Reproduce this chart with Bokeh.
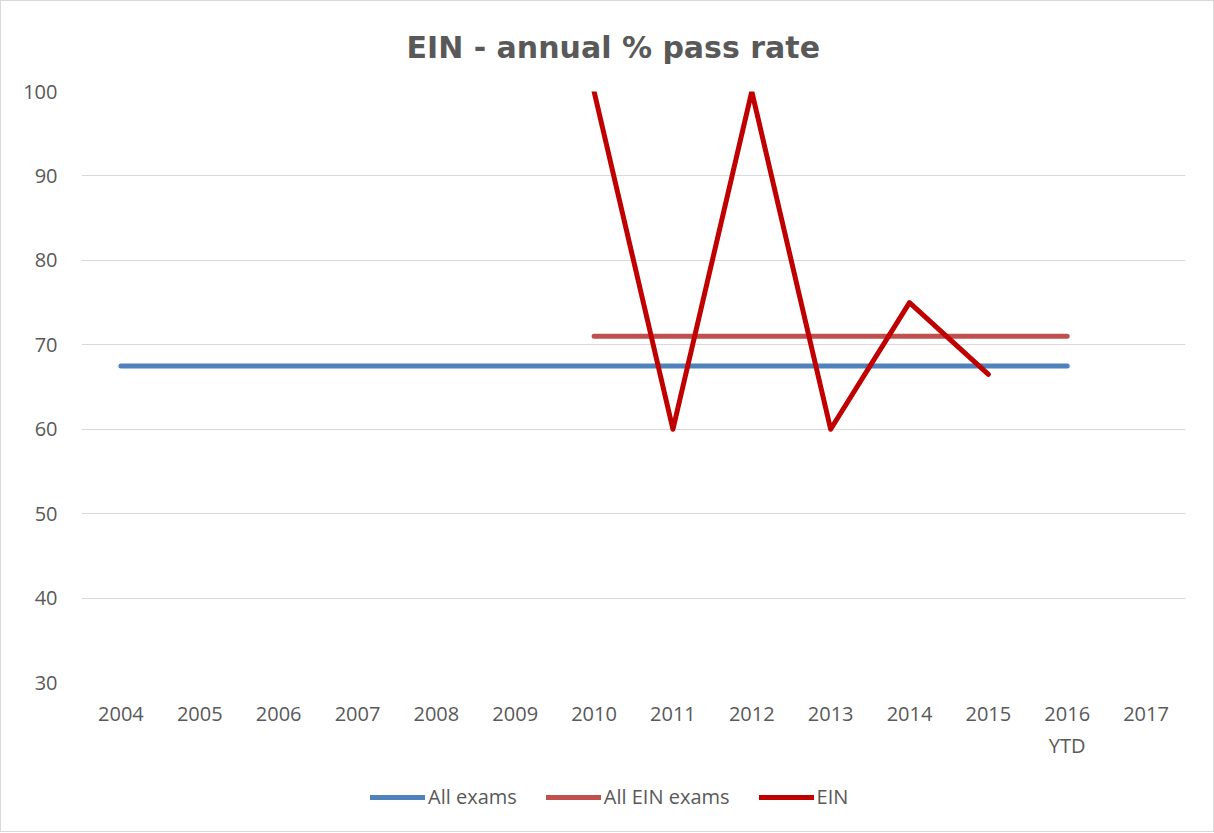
from bokeh.plotting import figure
from bokeh.models import Legend, LegendItem, FactorRange, Range1d, FixedTicker
from bokeh.layouts import column
from bokeh.embed import file_html
from bokeh.resources import INLINE

# ---- data ----
years = ["2004", "2005", "2006", "2007", "2008", "2009", "2010", "2011",
         "2012", "2013", "2014", "2015", "2016\nYTD", "2017"]
all_exams_years = ["2004", "2005", "2006", "2007", "2008", "2009", "2010",
                   "2011", "2012", "2013", "2014", "2015", "2016\nYTD"]
all_exams = [67.5, 67.5, 67.5, 67.5, 67.5, 67.5, 67.5, 67.5, 67.5, 67.5,
             67.5, 67.5, 67.5]
all_ein_years = ["2010", "2011", "2012", "2013", "2014", "2015", "2016\nYTD"]
all_ein = [71, 71, 71, 71, 71, 71, 71]
ein_years = ["2010", "2011", "2012", "2013", "2014", "2015"]
ein = [100, 60, 100, 60, 75, 66.5]
y_ticks = [30, 40, 50, 60, 70, 80, 90, 100]
series_names = ["All exams", "All EIN exams", "EIN"]
series_colors = ["#4F81BD", "#C0504D", "#C00000"]

FONT = "Open Sans"
GREY = "#595959"

p = figure(frame_width=1104, frame_height=591, x_range=FactorRange(*years),
           y_range=Range1d(30, 100), output_backend="svg",
           toolbar_location=None, title="EIN - annual % pass rate",
           min_border_left=80, min_border_right=28, min_border_top=86,
           min_border_bottom=83)
p.outline_line_color = None
p.background_fill_color = "white"

p.title.align = "left"
p.title.offset = 325
p.title.text_font = "DejaVu Sans"
p.title.text_font_size = "30px"
p.title.text_font_style = "bold"
p.title.text_color = GREY
p.title.standoff = 53

p.xgrid.grid_line_color = None
p.ygrid.grid_line_color = "#D9D9D9"
p.ygrid.grid_line_width = 1
p.yaxis.ticker = FixedTicker(ticks=y_ticks)

for ax in (p.xaxis[0], p.yaxis[0]):
    ax.axis_line_color = None
    ax.major_tick_line_color = None
    ax.minor_tick_line_color = None
    ax.major_tick_out = 0
    ax.major_tick_in = 0
    ax.major_label_text_font = FONT
    ax.major_label_text_font_size = "20px"
    ax.major_label_text_color = GREY
p.yaxis.major_label_standoff = 24
p.xaxis.major_label_standoff = 17
p.x_range.range_padding = 0

p.line(all_exams_years, all_exams, line_color=series_colors[0], line_width=5,
       line_cap="round")
p.line(all_ein_years, all_ein, line_color=series_colors[1], line_width=5,
       line_cap="round")
p.line(ein_years, ein, line_color=series_colors[2], line_width=5,
       line_cap="round", line_join="round")

# ---- legend strip below the chart ----
nan = float("nan")
lg = figure(width=1212, height=66, x_range=Range1d(0, 1), y_range=Range1d(0, 1),
            x_axis_location=None, y_axis_location=None, toolbar_location=None,
            output_backend="svg", min_border=0)
lg.outline_line_color = None
lg.grid.visible = False
items = []
for name, col in zip(series_names, series_colors):
    r = lg.line(x=[nan, nan], y=[nan, nan], line_color=col, line_width=5,
                line_cap="round")
    items.append(LegendItem(label=name, renderers=[r]))
legend = Legend(items=items, orientation="horizontal", location=(289, 21),
                glyph_width=55, label_standoff=3, spacing=29,
                label_text_font=FONT, label_text_font_size="20px",
                label_text_color=GREY, border_line_color=None,
                background_fill_alpha=0, margin=0, padding=0)
lg.add_layout(legend, "center")

layout = column(p, lg, spacing=0, styles={"border": "1px solid #D9D9D9"})

open("out.html", "w").write(file_html(layout, INLINE))
